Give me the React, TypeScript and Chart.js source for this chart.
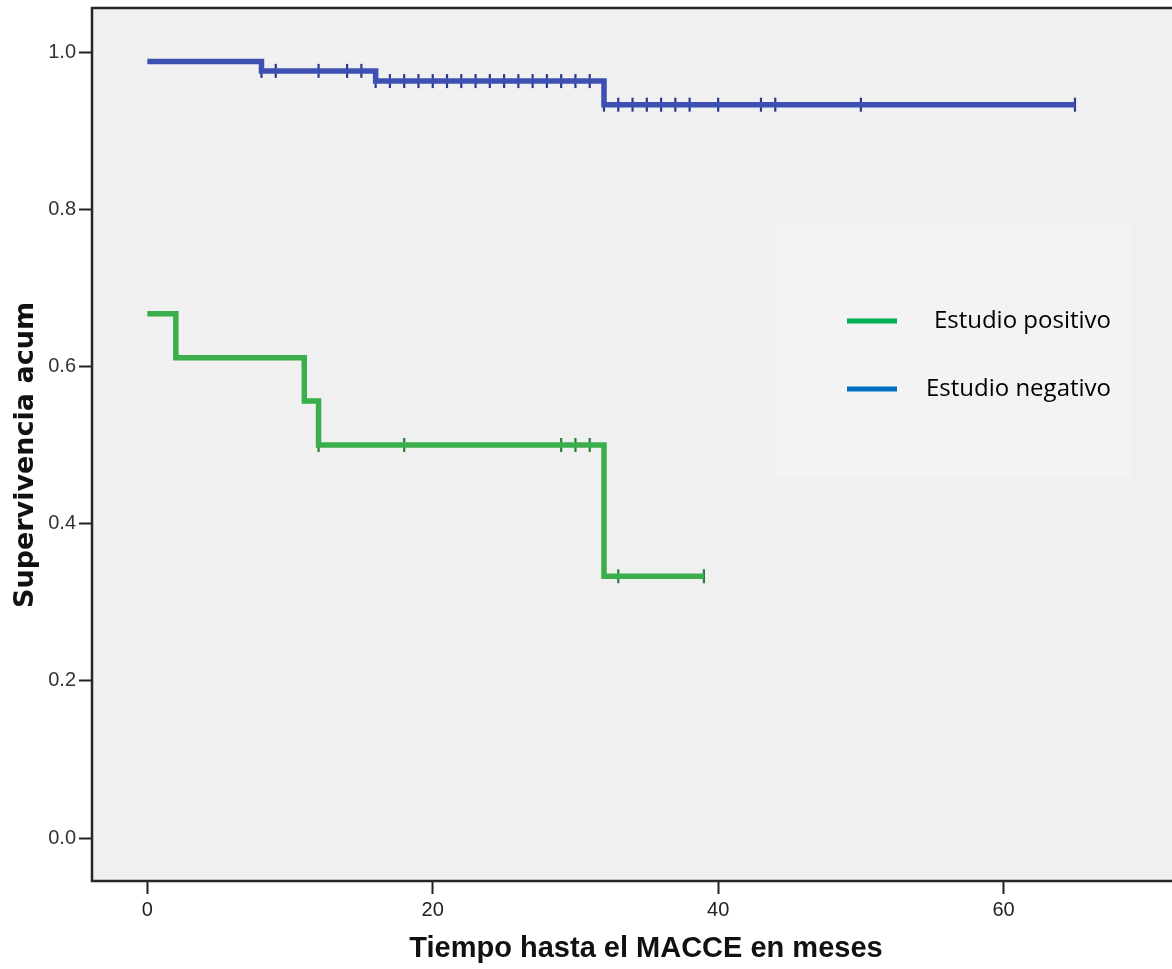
import React, { useEffect, useRef } from "react";
import { Chart, registerables } from "chart.js";

Chart.register(...registerables);

// ---- Data ----
const legendLabels = ["Estudio positivo", "Estudio negativo"];

// Estudio negativo (blue) Kaplan–Meier steps
const negTimes = [0, 8, 16, 32, 65];
const negSurv = [0.988, 0.976, 0.963, 0.933, 0.933];
const negCensorTimes = [
  8, 9, 12, 14, 15, 16, 17, 18, 19, 20, 21, 22, 23, 24, 25, 26, 27, 28, 29, 30, 31,
  32, 33, 34, 35, 36, 37, 38, 40, 43, 44, 50, 65,
];

// Estudio positivo (green) Kaplan–Meier steps
const posTimes = [0, 2, 11, 12, 32, 39];
const posSurv = [0.667, 0.611, 0.556, 0.5, 0.333, 0.333];
const posCensorTimes = [12, 18, 29, 30, 31, 33, 39];

const xTicks = [0, 20, 40, 60];
const yTicks = [0, 0.2, 0.4, 0.6, 0.8, 1.0];

const xTitle = "Tiempo hasta el MACCE en meses";
const yTitle = "Supervivencia acum";

function stepPoints(times: number[], surv: number[]) {
  return times.map((t, i) => ({ x: t, y: surv[i] }));
}
function survAt(times: number[], surv: number[], t: number) {
  let v = surv[0];
  for (let i = 0; i < times.length; i++) if (times[i] <= t) v = surv[i];
  return v;
}
function censorPoints(times: number[], surv: number[], cens: number[]) {
  return cens.map((t) => ({ x: t, y: survAt(times, surv, t) }));
}

const decorPlugin = {
  id: "decor",
  beforeDatasetsDraw(chart: any) {
    const { ctx, chartArea } = chart;
    const { left, top, right, bottom } = chartArea;
    ctx.save();
    ctx.fillStyle = "#f0f0f0";
    ctx.fillRect(left, top, right - left, bottom - top);
    // legend box
    ctx.fillStyle = "#f3f3f3";
    ctx.fillRect(777, 223, 354, 255);
    ctx.fillStyle = "#00b050";
    ctx.fillRect(847, 318.5, 50, 5);
    ctx.fillStyle = "#0070c0";
    ctx.fillRect(847, 386.5, 50, 5);
    ctx.fillStyle = "#000";
    ctx.font = '24px "Open Sans"';
    ctx.textAlign = "right";
    ctx.textBaseline = "alphabetic";
    ctx.fillText(legendLabels[0], 1111, 328);
    ctx.fillText(legendLabels[1], 1111, 396);
    ctx.restore();
  },
  afterDraw(chart: any) {
    const { ctx, chartArea } = chart;
    const { left, top, right, bottom } = chartArea;
    ctx.save();
    ctx.strokeStyle = "#262626";
    ctx.lineWidth = 2.5;
    ctx.strokeRect(left, top, right - left + 10, bottom - top);
    // axis titles
    ctx.fillStyle = "#111";
    ctx.font = 'bold 29px "Liberation Sans"';
    ctx.textAlign = "center";
    ctx.textBaseline = "alphabetic";
    ctx.fillText(xTitle, 646, 957);
    ctx.translate(33, 455);
    ctx.rotate(-Math.PI / 2);
    ctx.font = 'bold 27px "DejaVu Sans"';
    ctx.fillText(yTitle, 0, 0);
    ctx.restore();
  },
};

export default function App() {
  const ref = useRef<HTMLCanvasElement | null>(null);
  useEffect(() => {
    if (!ref.current) return;
    const blue = "#3d50b2";
    const blueDark = "#2b3a8c";
    const green = "#3aae4a";
    const greenDark = "#2a7d35";
    const chart = new Chart(ref.current, {
      type: "line",
      data: {
        datasets: [
          {
            type: "line",
            label: legendLabels[1],
            data: stepPoints(negTimes, negSurv),
            stepped: "before",
            borderColor: blue,
            borderWidth: 5.5,
            pointRadius: 0,
            fill: false,
            borderJoinStyle: "miter",
            borderCapStyle: "butt",
          } as any,
          {
            type: "scatter",
            label: "neg censor",
            data: censorPoints(negTimes, negSurv, negCensorTimes),
            pointStyle: "line",
            rotation: 90,
            radius: 7,
            borderWidth: 2.2,
            borderColor: blueDark,
            backgroundColor: blueDark,
            showLine: false,
          } as any,
          {
            type: "line",
            label: legendLabels[0],
            data: stepPoints(posTimes, posSurv),
            stepped: "before",
            borderColor: green,
            borderWidth: 5.5,
            pointRadius: 0,
            fill: false,
            borderJoinStyle: "miter",
            borderCapStyle: "butt",
          } as any,
          {
            type: "scatter",
            label: "pos censor",
            data: censorPoints(posTimes, posSurv, posCensorTimes),
            pointStyle: "line",
            rotation: 90,
            radius: 7,
            borderWidth: 2.2,
            borderColor: greenDark,
            backgroundColor: greenDark,
            showLine: false,
          } as any,
        ],
      },
      options: {
        animation: false,
        responsive: true,
        maintainAspectRatio: false,
        events: [],
        layout: { autoPadding: false, padding: { top: 8, left: 0, right: 0, bottom: 0 } },
        plugins: {
          legend: { display: false },
          tooltip: { enabled: false },
          title: { display: false },
        },
        scales: {
          x: {
            type: "linear",
            position: "bottom",
            min: -3.875,
            max: 71.8,
            border: { display: false },
            grid: {
              display: true,
              drawOnChartArea: false,
              drawTicks: true,
              tickLength: 13,
              tickColor: "#222",
              tickWidth: 2,
            },
            ticks: {
              padding: 4,
              color: "#222",
              font: { family: '"Liberation Sans"', size: 20 },
              maxRotation: 0,
              callback: (v: any) => String(v),
            },
            afterBuildTicks: (scale: any) => {
              scale.ticks = xTicks.map((v) => ({ value: v }));
            },
            afterFit: (scale: any) => {
              scale.height = 88;
              scale.paddingLeft = 0;
              scale.paddingRight = 0;
            },
          },
          y: {
            type: "linear",
            min: -0.0547,
            max: 1.056,
            border: { display: false },
            grid: {
              display: true,
              drawOnChartArea: false,
              drawTicks: true,
              tickLength: 13,
              tickColor: "#222",
              tickWidth: 2,
            },
            ticks: {
              padding: 3,
              color: "#333",
              font: { family: '"Liberation Sans"', size: 20 },
              callback: (v: any) => Number(v).toFixed(1),
            },
            afterBuildTicks: (scale: any) => {
              scale.ticks = yTicks.map((v) => ({ value: v }));
            },
            afterFit: (scale: any) => {
              scale.width = 92;
              scale.paddingTop = 0;
              scale.paddingBottom = 0;
            },
          },
        },
      },
      plugins: [decorPlugin],
    });
    return () => chart.destroy();
  }, []);

  return (
    <div
      style={{
        position: "absolute",
        left: 0,
        top: 0,
        width: 1172,
        height: 969,
        background: "#fff",
      }}
    >
      <canvas ref={ref} />
    </div>
  );
}
